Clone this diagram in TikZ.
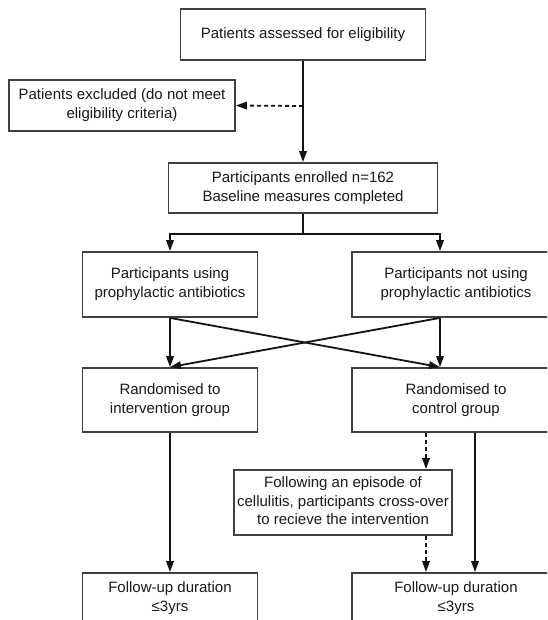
\documentclass[tikz,border=0pt]{standalone}
\usepackage{fontspec}
\setmainfont{Liberation Sans}
\usetikzlibrary{arrows.meta,calc}
\newcommand{\cellt}[1]{\begin{tabular}{@{}c@{}}#1\end{tabular}}
\begin{document}
\begin{tikzpicture}[x=1pt,y=-1pt,
  box/.style={draw=black!75, line width=1.8pt, rectangle, inner sep=0pt,
    font=\fontsize{15}{18.7}\selectfont, text=black!90},
  arr/.style={line width=1.8pt, draw=black!92, -{Triangle[length=11pt,width=7.5pt]}},
  darr/.style={arr, dash pattern=on 4pt off 3pt}]
\useasboundingbox (0,0) rectangle (547,620);
\clip (0,0) rectangle (547,620);
\fill[white] (0,0) rectangle (547,620);
\coordinate (rcol) at (440,0);
\coordinate (dcol) at (426,0);
\coordinate (scol) at (475,0);
\node[box, minimum width=245pt, minimum height=51pt] (assess) at (303,34.5) {\cellt{Patients assessed for eligibility}};
\node[box, minimum width=226pt, minimum height=51pt] (excl) at (122,105.5) {\cellt{Patients excluded (do not meet\\eligibility criteria)}};
\node[box, minimum width=269pt, minimum height=50pt] (enrol) at (303,188) {\cellt{Participants enrolled n=162\\Baseline measures completed}};
\node[box, minimum width=175pt, minimum height=65pt] (using) at (170,284.5) {\cellt{Participants using\\prophylactic antibiotics}};
\node[box, minimum width=208pt, minimum height=65pt] (notusing) at (456,284.5) {\cellt{Participants not using\\prophylactic antibiotics}\hspace{32pt}};
\node[box, minimum width=175pt, minimum height=64pt] (randl) at (170,400) {\cellt{Randomised to\\intervention group}};
\node[box, minimum width=208pt, minimum height=64pt] (randr) at (456,400) {\cellt{Randomised to\\control group}\hspace{32pt}};
\node[box, minimum width=218pt, minimum height=65pt] (follow) at (343,502.5) {\cellt{Following an episode of\\cellulitis, participants cross-over\\to recieve the intervention}};
\node[box, minimum width=175pt, minimum height=50pt] (ful) at (170,598) {\cellt{Follow-up duration\\≤3yrs}};
\node[box, minimum width=208pt, minimum height=50pt] (fur) at (456,598) {\cellt{Follow-up duration\\≤3yrs}\hspace{32pt}};
\coordinate (exj) at (303,106);
\draw[arr] (assess.south) -- (enrol.north);
\draw[darr] (exj) -- (excl.east);
\draw[arr] (enrol.south) -- ++(0,20) -| (using.north);
\draw[arr] (enrol.south) -- ++(0,20) -| (notusing.north -| rcol);
\draw[arr] (using.south) -- (randl.north);
\draw[arr] (using.south) -- (randr.north -| rcol);
\draw[arr] (notusing.south -| rcol) -- (randl.north);
\draw[arr] (notusing.south -| rcol) -- (randr.north -| rcol);
\draw[darr] (randr.south -| dcol) -- (follow.north -| dcol);
\draw[darr] (follow.south -| dcol) -- (fur.north -| dcol);
\draw[arr] (randr.south -| scol) -- (fur.north -| scol);
\draw[arr] (randl.south) -- (ful.north);
\end{tikzpicture}
\end{document}
